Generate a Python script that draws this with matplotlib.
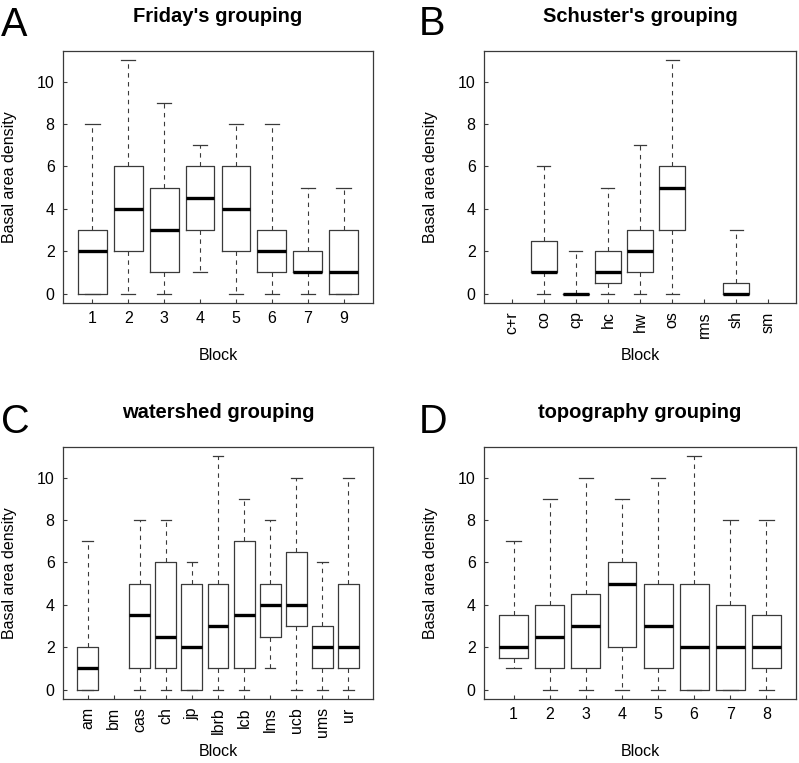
import matplotlib
matplotlib.use("Agg")
import matplotlib.pyplot as plt

plt.rcParams['font.family'] = ['Liberation Sans', 'DejaVu Sans']

# A: Friday's grouping
a_labels = ['1', '2', '3', '4', '5', '6', '7', '9']
a_low = [0, 0, 0, 1, 0, 0, 0, 0]
a_q1 = [0, 2, 1, 3, 2, 1, 1, 0]
a_med = [2, 4, 3, 4.5, 4, 2, 1, 1]
a_q3 = [3, 6, 5, 6, 6, 3, 2, 3]
a_high = [8, 11, 9, 7, 8, 8, 5, 5]

# B: Schuster's grouping (None = no data)
b_labels = ['c+r', 'co', 'cp', 'hc', 'hw', 'os', 'rms', 'sh', 'sm']
b_low = [None, 0, 0, 0, 0, 0, None, 0, None]
b_q1 = [None, 1, 0, 0.5, 1, 3, None, 0, None]
b_med = [None, 1, 0, 1, 2, 5, None, 0, None]
b_q3 = [None, 2.5, 0, 2, 3, 6, None, 0.5, None]
b_high = [None, 6, 2, 5, 7, 11, None, 3, None]

# C: watershed grouping
c_labels = ['am', 'bm', 'cas', 'ch', 'jp', 'lbrb', 'lcb', 'lms', 'ucb', 'ums', 'ur']
c_low = [0, None, 0, 0, 0, 0, 0, 1, 0, 0, 0]
c_q1 = [0, None, 1, 1, 0, 1, 1, 2.5, 3, 1, 1]
c_med = [1, None, 3.5, 2.5, 2, 3, 3.5, 4, 4, 2, 2]
c_q3 = [2, None, 5, 6, 5, 5, 7, 5, 6.5, 3, 5]
c_high = [7, None, 8, 8, 6, 11, 9, 8, 10, 6, 10]

# D: topography grouping
d_labels = ['1', '2', '3', '4', '5', '6', '7', '8']
d_low = [1, 0, 0, 0, 0, 0, 0, 0]
d_q1 = [1.5, 1, 1, 2, 1, 0, 0, 1]
d_med = [2, 2.5, 3, 5, 3, 2, 2, 2]
d_q3 = [3.5, 4, 4.5, 6, 5, 5, 4, 3.5]
d_high = [7, 9, 10, 9, 10, 11, 8, 8]

W, H = 799, 763
fig = plt.figure(figsize=(W / 100, H / 100), dpi=100)

edge = '#3a3a3a'
fs = 11.5


def panel(rect, letter, letter_xy, title, labels, low, q1, med, q3, high, rotate):
    ax = fig.add_axes(rect)
    stats = []
    pos = []
    for i, lab in enumerate(labels):
        if med[i] is None:
            continue
        stats.append(dict(whislo=low[i], q1=q1[i], med=med[i], q3=q3[i],
                          whishi=high[i], label=lab))
        pos.append(i + 1)
    ax.bxp(stats, positions=pos, widths=0.8, showfliers=False,
           boxprops=dict(color=edge, linewidth=0.9),
           medianprops=dict(color='black', linewidth=2.4, solid_capstyle='butt'),
           whiskerprops=dict(color=edge, linewidth=0.8, linestyle=(0, (4, 4))),
           capprops=dict(color=edge, linewidth=0.9))
    n = len(labels)
    span = n - 1 + 1.0
    ax.set_xlim(0.5 - 0.04 * span, n + 0.5 + 0.04 * span)
    ax.set_ylim(-0.44, 11.44)
    ax.set_xticks(range(1, n + 1))
    ax.set_xticklabels(labels, rotation=90 if rotate else 0)
    ax.set_yticks([0, 2, 4, 6, 8, 10])
    ax.tick_params(direction='in', length=3, width=0.8, color=edge,
                   labelsize=fs, pad=6)
    for s in ax.spines.values():
        s.set_color(edge)
        s.set_linewidth(0.9)
    ax.set_ylabel('Basal area density', fontsize=fs)
    ax.yaxis.set_label_coords(-0.148, 0.5)
    ax.set_xlabel('Block', fontsize=fs)
    ax.xaxis.set_label_coords(0.5, -0.18)
    ax.set_title(title, fontsize=14.5, fontweight='bold', pad=21)
    fig.text(letter_xy[0] / W, 1 - letter_xy[1] / H, letter, fontsize=28.5,
             va='baseline', ha='left')
    return ax


top_b = 1 - 303 / H
bot_b = 1 - 699 / H
h = 252 / H
panel([63 / W, top_b, 310 / W, h], 'A', (1, 36), "Friday's grouping",
      a_labels, a_low, a_q1, a_med, a_q3, a_high, False)
panel([484 / W, top_b, 312 / W, h], 'B', (419, 35), "Schuster's grouping",
      b_labels, b_low, b_q1, b_med, b_q3, b_high, True)
panel([63 / W, bot_b, 310 / W, h], 'C', (1, 433), 'watershed grouping',
      c_labels, c_low, c_q1, c_med, c_q3, c_high, True)
panel([484 / W, bot_b, 312 / W, h], 'D', (419, 433), 'topography grouping',
      d_labels, d_low, d_q1, d_med, d_q3, d_high, False)

fig.savefig('out.png', dpi=100)
